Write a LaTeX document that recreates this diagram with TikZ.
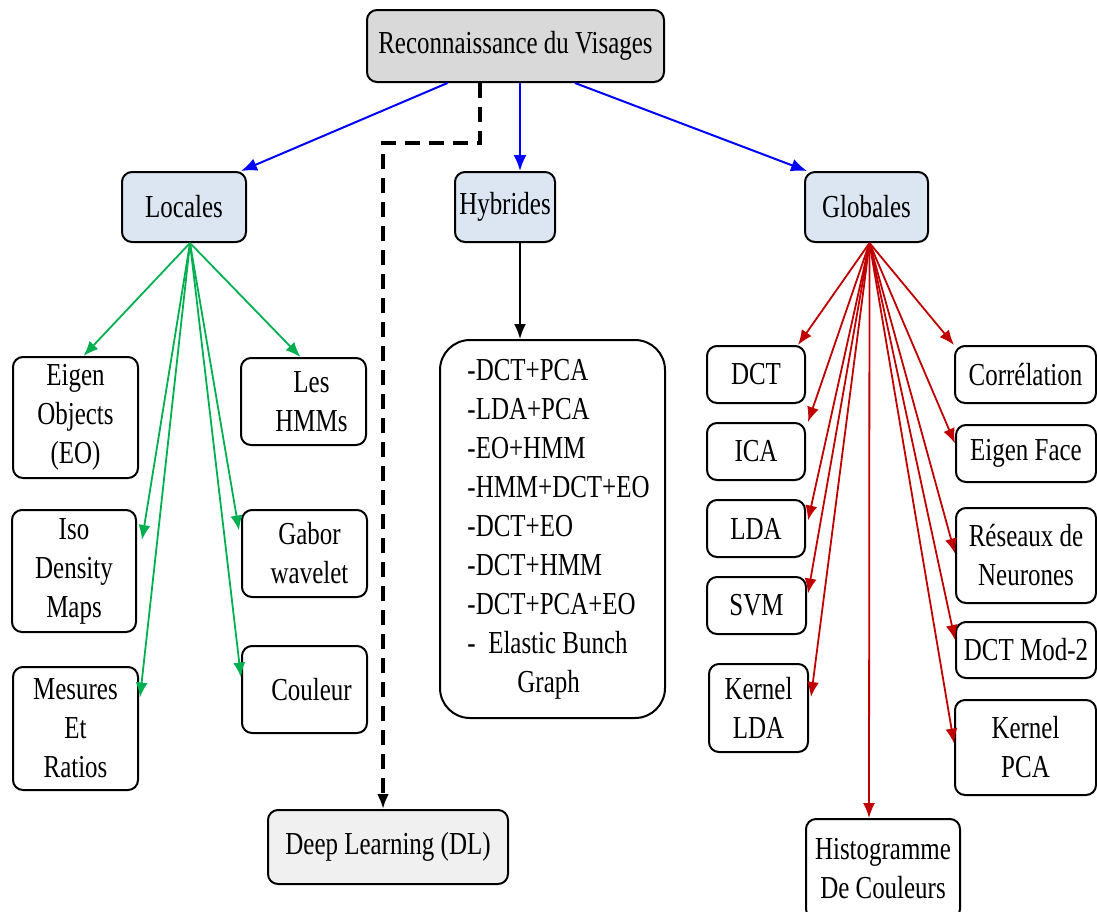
\documentclass[tikz,border=0pt]{standalone}
\usepackage{fontspec}
\setmainfont[FakeStretch=0.78]{Liberation Serif}
\usetikzlibrary{arrows.meta}
\definecolor{rootgray}{RGB}{217,217,217}
\definecolor{catblue}{RGB}{220,230,242}
\definecolor{dlgray}{RGB}{240,240,240}
\definecolor{lgreen}{RGB}{0,176,80}
\definecolor{gred}{RGB}{192,0,0}
\tikzset{
  box/.style={draw, line width=2pt, rounded corners=10pt, align=center,
    inner sep=0pt, font=\fontsize{32}{39}\selectfont},
  cat/.style={box, fill=catblue, minimum width=124pt, minimum height=70pt},
  blk/.style={draw=blue, line width=2pt, -{Latex[length=16pt,width=13pt]}},
  grn/.style={draw=lgreen, line width=1.8pt, -{Latex[length=15pt,width=12pt]}},
  rd/.style={draw=gred, line width=1.8pt, -{Latex[length=15pt,width=12pt]}},
  dlline/.style={line width=3.2pt, dash pattern=on 15pt off 9pt, -{Latex[length=15pt,width=12pt]}}
}
\begin{document}
\begin{tikzpicture}[x=1pt,y=-1pt]
  \useasboundingbox (0,0) rectangle (1097,911);
  \draw
    (515.5,46) node[box, fill=rootgray, minimum width=297pt, minimum height=72pt] (root){Reconnaissance du Visages}
    (184,207) node[cat] (loc){Locales}
    (505,207) node[cat, minimum width=100pt] (hyb){Hybrides}
    (866.5,207) node[cat, minimum width=123pt] (glo){Globales};
  \draw
    (75.5,417.5) node[box, minimum width=125pt, minimum height=121pt] (eo){Eigen\\Objects\\(EO)}
    (303.5,401.5) node[box, minimum width=125pt, minimum height=87pt] (hmm){\hspace*{16pt}Les\\\hspace*{16pt}HMMs}
    (74,571) node[box, minimum width=124pt, minimum height=122pt] (iso){Iso\\Density\\Maps}
    (304.5,553.5) node[box, minimum width=125pt, minimum height=87pt] (gab){\hspace*{10pt}Gabor\\\hspace*{10pt}wavelet}
    (75.5,728.5) node[box, minimum width=125pt, minimum height=123pt] (mes){Mesures\\Et\\Ratios}
    (304.5,689.5) node[box, minimum width=125pt, minimum height=87pt] (cou){\hspace*{14pt}Couleur};
  \draw
    (552.5,529) node[box, rounded corners=30pt, minimum width=225pt, minimum height=378pt, align=left] (lst){\hspace*{12pt}-DCT+PCA\\\hspace*{12pt}-LDA+PCA\\\hspace*{12pt}-EO+HMM\\\hspace*{12pt}-HMM+DCT+EO\\\hspace*{12pt}-DCT+EO\\\hspace*{12pt}-DCT+HMM\\\hspace*{12pt}-DCT+PCA+EO\\\hspace*{12pt}-\ \ Elastic Bunch\\\hspace*{62pt}Graph}
    (388,847) node[box, fill=dlgray, minimum width=240pt, minimum height=74pt] (dl){Deep Learning (DL)};
  \draw
    (756,374.5) node[box, minimum width=98pt, minimum height=57pt] (dct){DCT}
    (756,451.5) node[box, minimum width=98pt, minimum height=57pt] (ica){ICA}
    (756,528.5) node[box, minimum width=98pt, minimum height=57pt] (lda){LDA}
    (756.5,605.5) node[box, minimum width=99pt, minimum height=57pt] (svm){SVM}
    (758.5,708) node[box, minimum width=99pt, minimum height=88pt] (klda){Kernel\\LDA}
    (1025.5,374.5) node[box, minimum width=141pt, minimum height=57pt] (cor){Corrélation}
    (1026,453.5) node[box, minimum width=140pt, minimum height=57pt] (ef){Eigen Face}
    (1026,555.5) node[box, minimum width=140pt, minimum height=95pt] (res){Réseaux de\\Neurones}
    (1026,650) node[box, minimum width=140pt, minimum height=56pt] (dmod){DCT Mod-2}
    (1025.5,747.5) node[box, minimum width=141pt, minimum height=95pt] (kpca){Kernel\\PCA}
    (883,869) node[box, minimum width=154pt, minimum height=100pt] (hist){Histogramme\\De Couleurs};
  \begin{scope}[blk]
    \draw ([xshift=-68pt]root.south) to ([xshift=-6pt]loc.north east);
    \draw ([xshift=4.5pt]root.south) to ([xshift=15pt]hyb.north);
    \draw ([xshift=59.5pt]root.south) to ([xshift=3pt]glo.north west);
  \end{scope}
  \draw[dlline] ([xshift=-35.5pt]root.south) -- ++(0,60) -| ([xshift=-5pt]dl.north);
  \draw[line width=1.8pt, -{Latex[length=15pt,width=12pt]}] ([xshift=15pt]hyb.south) -- ([xshift=-32.5pt]lst.north);
  \begin{scope}[grn]
    \draw ([xshift=6pt]loc.south) to ([xshift=8pt]eo.north);
    \draw ([xshift=6pt]loc.south) to ([xshift=-3pt]hmm.north);
    \draw ([xshift=6pt]loc.south) to ([xshift=5pt,yshift=31pt]iso.east);
    \draw ([xshift=6pt]loc.south) to ([xshift=-2pt,yshift=23pt]gab.west);
    \draw ([xshift=6pt]loc.south) to ([xshift=1pt,yshift=31pt]mes.east);
    \draw ([xshift=6pt]loc.south) to ([yshift=12pt]cou.west);
  \end{scope}
  \begin{scope}[rd]
    \draw ([xshift=3pt]glo.south) to ([xshift=-8pt]dct.north east);
    \draw ([xshift=3pt]glo.south) to ([xshift=2pt]ica.north east);
    \draw ([xshift=3pt]glo.south) to ([xshift=2pt,yshift=8pt]lda.east);
    \draw ([xshift=3pt]glo.south) to ([xshift=1pt,yshift=12pt]svm.east);
    \draw ([xshift=3pt]glo.south) to ([xshift=2pt,yshift=11pt]klda.east);
    \draw ([xshift=3pt]glo.south) to ([xshift=-14pt]hist.north);
    \draw ([xshift=3pt]glo.south) to (cor.north west);
    \draw ([xshift=3pt]glo.south) to ([yshift=10pt]ef.west);
    \draw ([xshift=3pt]glo.south) to ([yshift=2pt]res.west);
    \draw ([xshift=3pt]glo.south) to ([yshift=10pt]dmod.west);
    \draw ([xshift=3pt]glo.south) to ([yshift=4pt]kpca.west);
  \end{scope}
\end{tikzpicture}
\end{document}
